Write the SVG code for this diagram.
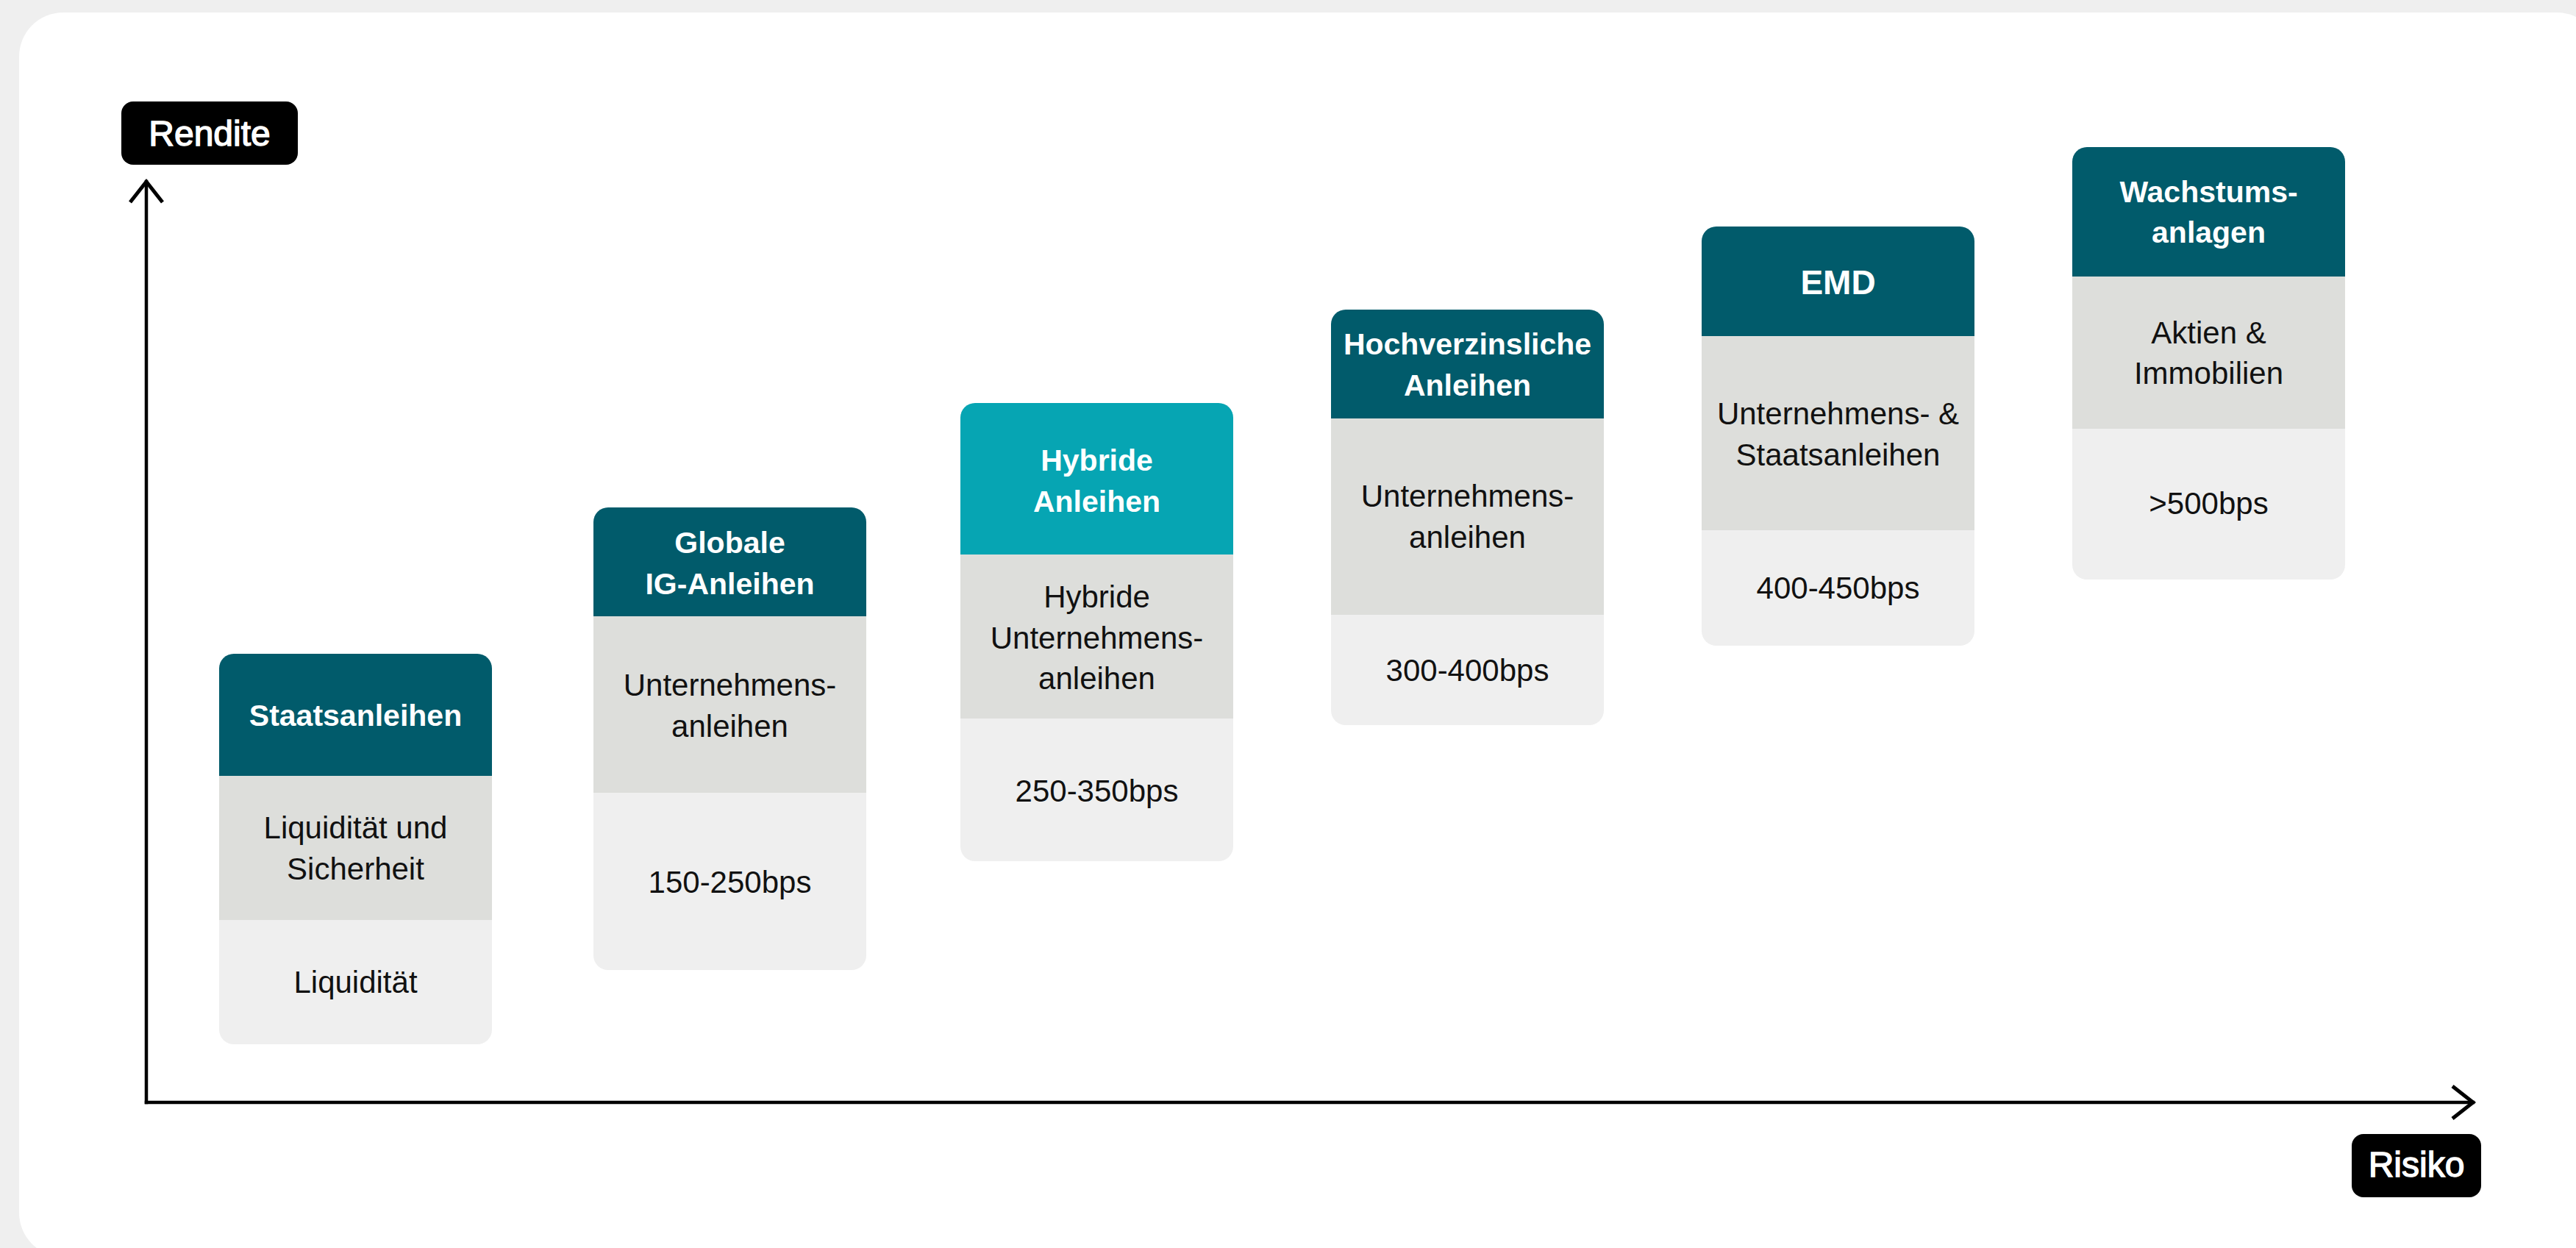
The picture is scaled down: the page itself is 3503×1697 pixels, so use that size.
<svg xmlns="http://www.w3.org/2000/svg" width="3503" height="1697" viewBox="0 0 3503 1697">
<defs>
<style>
.bg{fill:#efefef}
.panel{fill:#ffffff}
.hd{fill:#015b6b}
.hd2{fill:#06a5b3}
.mid{fill:#dddedb}
.bot{fill:#efefef}
.ht{font-family:"Liberation Sans",Arial,sans-serif;font-weight:700;font-size:41px;fill:#ffffff;text-anchor:middle}
.bt{font-family:"Liberation Sans",Arial,sans-serif;font-weight:400;font-size:42px;fill:#111111;text-anchor:middle}
.lbl{fill:#000000}
.lt{font-family:"Liberation Sans",Arial,sans-serif;font-weight:400;font-size:48px;fill:#ffffff;stroke:#ffffff;stroke-width:1.4;text-anchor:middle}
.axis{stroke:#000000;stroke-width:4.5;fill:none;stroke-linecap:square}
</style>
<marker id="chev" markerUnits="userSpaceOnUse" viewBox="-40 -30 50 60" markerWidth="50" markerHeight="60" refX="0" refY="0" orient="auto" overflow="visible">
<path d="M-28,-22 L0,0 L-28,22" fill="none" stroke="#000000" stroke-width="5"/>
</marker>
</defs>
<rect class="bg" x="0" y="0" width="3503" height="1697"/>
<rect class="panel" x="26" y="17" width="3511" height="1692" rx="60"/>

<g id="connectors">
<line class="axis" x1="199" y1="1499" x2="199" y2="247" marker-end="url(#chev)"/>
<line class="axis" x1="199" y1="1499" x2="3363" y2="1499" marker-end="url(#chev)"/>
</g>

<g id="label-rendite">
<rect class="lbl" x="165" y="138" width="240" height="86" rx="16"/>
<text class="lt" x="285" y="198">Rendite</text>
</g>
<g id="label-risiko">
<rect class="lbl" x="3198" y="1542" width="176" height="86" rx="16"/>
<text class="lt" x="3286" y="1600">Risiko</text>
</g>

<g id="card-staatsanleihen">
<rect class="bot" x="298" y="889" width="371" height="531" rx="20"/>
<path class="hd" d="M298,1055 V909 A20,20 0 0 1 318,889 H649 A20,20 0 0 1 669,909 V1055 Z"/>
<rect class="mid" x="298" y="1055" width="371" height="196"/>
<text class="ht" x="483.5" y="987">Staatsanleihen</text>
<text class="bt" x="483.5" y="1140">Liquidität und</text>
<text class="bt" x="483.5" y="1195.5">Sicherheit</text>
<text class="bt" x="483.5" y="1350">Liquidität</text>
</g>

<g id="card-globale-ig">
<rect class="bot" x="807" y="690" width="371" height="629" rx="20"/>
<path class="hd" d="M807,838 V710 A20,20 0 0 1 827,690 H1158 A20,20 0 0 1 1178,710 V838 Z"/>
<rect class="mid" x="807" y="838" width="371" height="240"/>
<text class="ht" x="992.5" y="752">Globale</text>
<text class="ht" x="992.5" y="808">IG-Anleihen</text>
<text class="bt" x="992.5" y="945.5">Unternehmens-</text>
<text class="bt" x="992.5" y="1001.5">anleihen</text>
<text class="bt" x="992.5" y="1214">150-250bps</text>
</g>

<g id="card-hybride">
<rect class="bot" x="1306" y="548" width="371" height="623" rx="20"/>
<path class="hd2" d="M1306,754 V568 A20,20 0 0 1 1326,548 H1657 A20,20 0 0 1 1677,568 V754 Z"/>
<rect class="mid" x="1306" y="754" width="371" height="223"/>
<text class="ht" x="1491.5" y="640">Hybride</text>
<text class="ht" x="1491.5" y="696">Anleihen</text>
<text class="bt" x="1491.5" y="825.5">Hybride</text>
<text class="bt" x="1491.5" y="881.5">Unternehmens-</text>
<text class="bt" x="1491.5" y="937">anleihen</text>
<text class="bt" x="1491.5" y="1090">250-350bps</text>
</g>

<g id="card-hochverzinsliche">
<rect class="bot" x="1810" y="421" width="371" height="565" rx="20"/>
<path class="hd" d="M1810,569 V441 A20,20 0 0 1 1830,421 H2161 A20,20 0 0 1 2181,441 V569 Z"/>
<rect class="mid" x="1810" y="569" width="371" height="267"/>
<text class="ht" x="1995.5" y="482">Hochverzinsliche</text>
<text class="ht" x="1995.5" y="538">Anleihen</text>
<text class="bt" x="1995.5" y="689">Unternehmens-</text>
<text class="bt" x="1995.5" y="744.5">anleihen</text>
<text class="bt" x="1995.5" y="926">300-400bps</text>
</g>

<g id="card-emd">
<rect class="bot" x="2314" y="308" width="371" height="570" rx="20"/>
<path class="hd" d="M2314,457 V328 A20,20 0 0 1 2334,308 H2665 A20,20 0 0 1 2685,328 V457 Z"/>
<rect class="mid" x="2314" y="457" width="371" height="264"/>
<text class="ht" x="2499.5" y="400" style="font-size:46px">EMD</text>
<text class="bt" x="2499.5" y="577">Unternehmens- &amp;</text>
<text class="bt" x="2499.5" y="632.5">Staatsanleihen</text>
<text class="bt" x="2499.5" y="814">400-450bps</text>
</g>

<g id="card-wachstumsanlagen">
<rect class="bot" x="2818" y="200" width="371" height="588" rx="20"/>
<path class="hd" d="M2818,376 V220 A20,20 0 0 1 2838,200 H3169 A20,20 0 0 1 3189,220 V376 Z"/>
<rect class="mid" x="2818" y="376" width="371" height="207"/>
<text class="ht" x="3003.5" y="274.5">Wachstums-</text>
<text class="ht" x="3003.5" y="330">anlagen</text>
<text class="bt" x="3003.5" y="466.5">Aktien &amp;</text>
<text class="bt" x="3003.5" y="522">Immobilien</text>
<text class="bt" x="3003.5" y="699">&gt;500bps</text>
</g>
</svg>
